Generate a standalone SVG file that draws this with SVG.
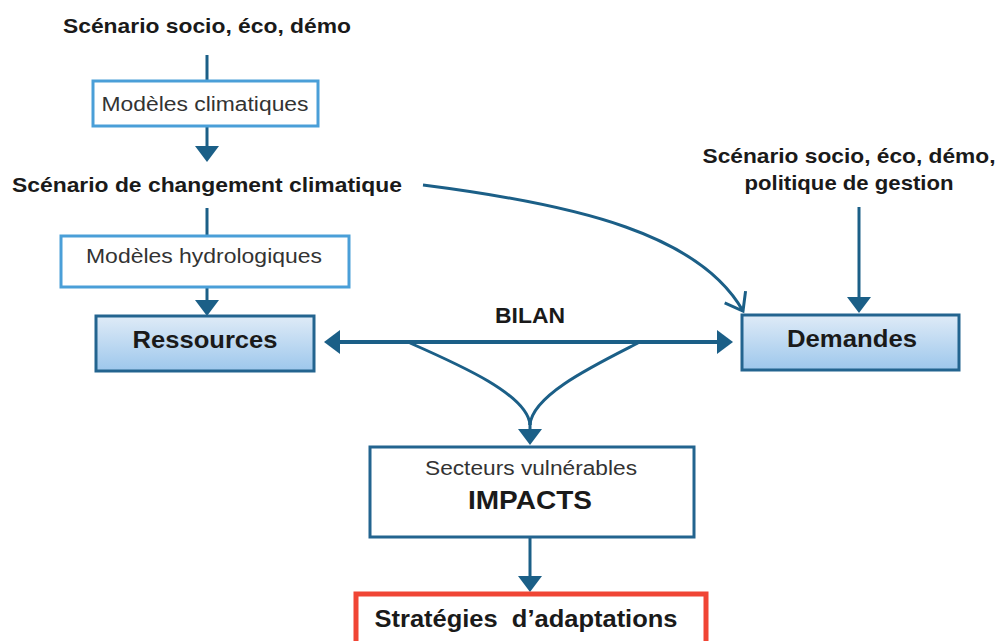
<svg xmlns="http://www.w3.org/2000/svg" width="998" height="641" viewBox="0 0 998 641">
<style>
  .t { font-family: "Liberation Sans", Arial, sans-serif; fill: #1a1a1a; text-anchor: middle; }
  .b { font-weight: bold; }
  .r { fill: #333333; }
  .boxl { fill: #ffffff; stroke: #4a9fd8; stroke-width: 3; }
  .boxd { fill: url(#blueGrad); stroke: #23648f; stroke-width: 3; }
  .boxw { fill: #ffffff; stroke: #23648f; stroke-width: 3; }
  .boxr { fill: #ffffff; stroke: #f04535; stroke-width: 5; }
  .c { fill: none; stroke: #1b5f87; stroke-width: 3; }
  .ca { fill: none; stroke: #1b5f87; stroke-width: 3; marker-end: url(#arrow); }
</style>
<defs>
  <linearGradient id="blueGrad" x1="0" y1="0" x2="0" y2="1">
    <stop offset="0" stop-color="#dfebf7"/>
    <stop offset="1" stop-color="#9dc7ec"/>
  </linearGradient>
  <marker id="arrow" markerUnits="userSpaceOnUse" viewBox="0 0 16 24" refX="8" refY="12" markerWidth="16" markerHeight="24" orient="auto-start-reverse">
    <path d="M0,0 L16,12 L0,24 z" fill="#1b5f87"/>
  </marker>
  <marker id="open" markerUnits="userSpaceOnUse" viewBox="0 0 22 28" refX="18" refY="14" markerWidth="22" markerHeight="28" orient="auto">
    <path d="M2,2 L18,14 L2,26" fill="none" stroke="#1b5f87" stroke-width="3"/>
  </marker>
</defs>

<g id="connectors">
  <line class="c" x1="207" y1="55" x2="207" y2="81"/>
  <line class="ca" x1="207" y1="126" x2="207" y2="154"/>
  <line class="c" x1="207" y1="208" x2="207" y2="236"/>
  <line class="ca" x1="207" y1="287" x2="207" y2="308"/>
  <line class="ca" x1="859" y1="207" x2="859" y2="305"/>
  <path class="c" d="M423,185 C580,205 700,235 743,311" marker-end="url(#open)"/>
  <line x1="332" y1="342" x2="725" y2="342" stroke="#1b5f87" stroke-width="4" marker-start="url(#arrow)" marker-end="url(#arrow)"/>
  <path class="c" stroke-width="3.5" d="M410,343 C460,365 528,395 530,425"/>
  <path class="c" stroke-width="3.5" d="M638,343 C595,365 532,395 530,425"/>
  <line class="ca" x1="530" y1="420" x2="530" y2="437"/>
  <line class="ca" x1="530" y1="538" x2="530" y2="584"/>
</g>

<g id="scenario-top">
  <text class="t b" x="207" y="33" font-size="21" textLength="288" lengthAdjust="spacingAndGlyphs">Scénario socio, éco, démo</text>
</g>
<g id="modeles-climatiques">
  <rect class="boxl" x="93" y="81" width="225" height="45"/>
  <text class="t r" x="205" y="111" font-size="20" textLength="207" lengthAdjust="spacingAndGlyphs">Modèles climatiques</text>
</g>
<g id="scenario-changement">
  <text class="t b" x="207" y="192" font-size="21" textLength="390" lengthAdjust="spacingAndGlyphs">Scénario de changement climatique</text>
</g>
<g id="modeles-hydrologiques">
  <rect class="boxl" x="61" y="236" width="288" height="51"/>
  <text class="t r" x="204" y="263" font-size="20" textLength="236" lengthAdjust="spacingAndGlyphs">Modèles hydrologiques</text>
</g>
<g id="ressources">
  <rect class="boxd" x="96" y="316" width="218" height="55"/>
  <text class="t b" x="205" y="348" font-size="24" textLength="145" lengthAdjust="spacingAndGlyphs">Ressources</text>
</g>
<g id="bilan">
  <text class="t b" x="530" y="323" font-size="22" textLength="70" lengthAdjust="spacingAndGlyphs">BILAN</text>
</g>
<g id="scenario-right">
  <text class="t b" x="849" y="163" font-size="21" textLength="293" lengthAdjust="spacingAndGlyphs">Scénario socio, éco, démo,</text>
  <text class="t b" x="849" y="190" font-size="21" textLength="209" lengthAdjust="spacingAndGlyphs">politique de gestion</text>
</g>
<g id="demandes">
  <rect class="boxd" x="742" y="315" width="217" height="55"/>
  <text class="t b" x="852" y="347" font-size="24" textLength="130" lengthAdjust="spacingAndGlyphs">Demandes</text>
</g>
<g id="impacts">
  <rect class="boxw" x="370" y="447" width="324" height="90"/>
  <text class="t r" x="531" y="475" font-size="20" textLength="212" lengthAdjust="spacingAndGlyphs">Secteurs vulnérables</text>
  <text class="t b" x="530" y="509" font-size="25" textLength="124" lengthAdjust="spacingAndGlyphs">IMPACTS</text>
</g>
<g id="strategies">
  <rect class="boxr" x="356" y="594" width="350" height="70"/>
  <text class="t b" x="526" y="627" font-size="24" textLength="303" lengthAdjust="spacingAndGlyphs" style="white-space:pre">Stratégies  d’adaptations</text>
</g>
</svg>
